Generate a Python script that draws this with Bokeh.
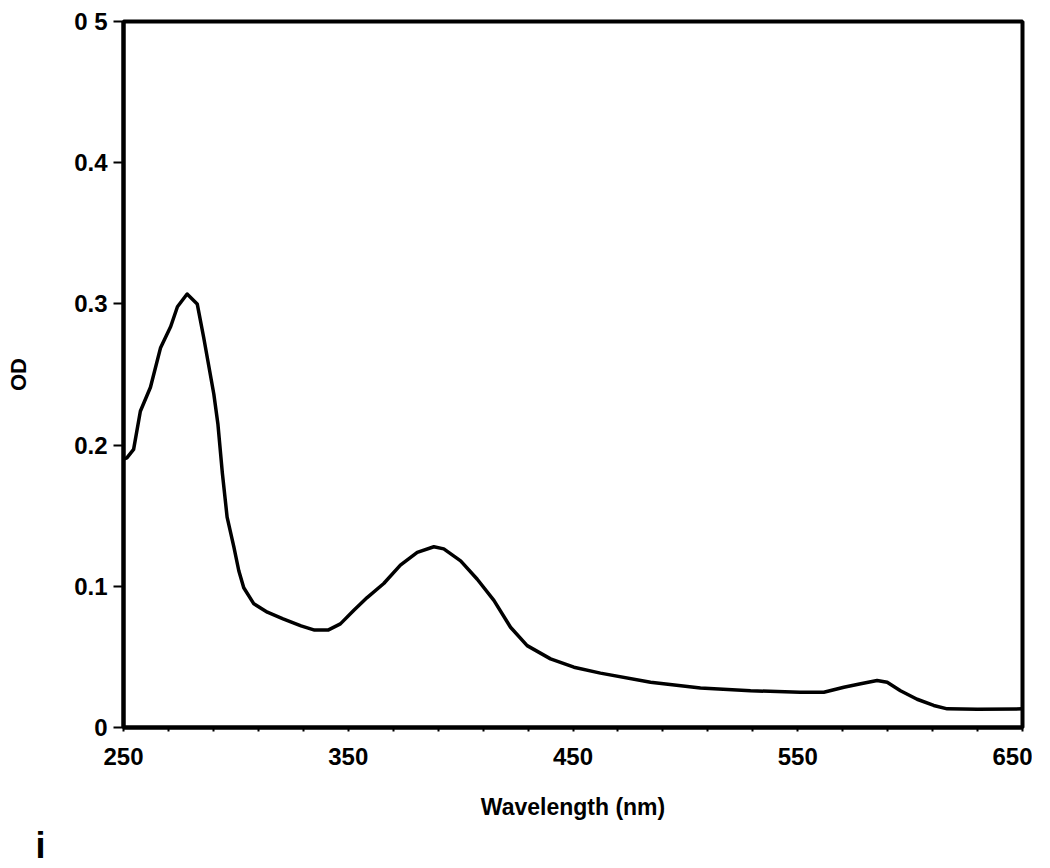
from bokeh.plotting import figure
from bokeh.models import FixedTicker, Range1d, Title
from bokeh.embed import file_html
from bokeh.resources import INLINE

wavelength = [250, 251.5, 254.5, 257.5, 262, 266.5, 271, 274, 278.3, 282.8, 285.7,
              290.2, 292, 294, 296.1, 299.1, 301.3, 303.5, 308, 314, 321, 329, 335,
              341, 346.5, 352.5, 358.4, 365.8, 373.2, 380.7, 388.1, 392.5, 400,
              407.4, 414.8, 422.2, 429.6, 440, 450.4, 462.2, 484.5, 506.7, 529,
              551, 561.6, 570.5, 578, 585.3, 589.8, 595.7, 603.1, 610.5, 616.5,
              630, 650]
od = [0.190, 0.191, 0.197, 0.224, 0.241, 0.269, 0.284, 0.298, 0.307, 0.300, 0.276,
      0.236, 0.215, 0.180, 0.149, 0.128, 0.111, 0.099, 0.0876, 0.0817, 0.077, 0.072, 0.069,
      0.069, 0.0734, 0.083, 0.092, 0.102, 0.115, 0.124, 0.128, 0.1265, 0.118,
      0.105, 0.090, 0.071, 0.058, 0.0486, 0.0427, 0.0385, 0.032, 0.028, 0.026,
      0.025, 0.025, 0.0285, 0.031, 0.0333, 0.032, 0.026, 0.020, 0.0156, 0.0132,
      0.013, 0.0132]

x_ticks = [250, 350, 450, 550, 650]
x_minor = [270, 290, 310, 330, 370, 390, 410, 430, 470, 490, 510, 530, 570, 590, 610, 630]
y_ticks = [0, 0.1, 0.2, 0.3, 0.4, 0.5]
y_labels = {0: "0", 0.1: "0.1", 0.2: "0.2", 0.3: "0.3", 0.4: "0.4", 0.5: "0 5"}
panel_mark = "i"

FONT = "Liberation Sans"

p = figure(width=1040, height=860, frame_width=899, frame_height=706,
           output_backend="svg", toolbar_location=None,
           x_range=Range1d(250, 650), y_range=Range1d(0, 0.5),
           min_border_left=123, min_border_top=21, min_border_right=10,
           min_border_bottom=5)

p.line(wavelength, od, line_color="black", line_width=3.5, line_join="round")

p.grid.visible = False
p.outline_line_color = "black"
p.outline_line_width = 4
p.background_fill_color = "white"
p.border_fill_color = "white"

xa = p.xaxis[0]
xa.ticker = FixedTicker(ticks=x_ticks, minor_ticks=x_minor)
xa.axis_line_width = 4
xa.major_tick_line_width = 2
xa.minor_tick_line_width = 2
xa.major_tick_out = 4
xa.major_tick_in = 0
xa.minor_tick_out = 4
xa.minor_tick_in = 0
xa.major_label_text_font = FONT
xa.major_label_text_font_style = "bold"
xa.major_label_text_font_size = "24px"
xa.major_label_text_color = "black"
xa.major_label_standoff = 16
xa.axis_label = "Wavelength (nm)"
xa.axis_label_text_font = FONT
xa.axis_label_text_font_style = "bold"
xa.axis_label_text_font_size = "23px"
xa.axis_label_text_color = "black"
xa.axis_label_standoff = 26

ya = p.yaxis[0]
ya.ticker = FixedTicker(ticks=y_ticks, minor_ticks=[])
ya.major_label_overrides = y_labels
ya.axis_line_width = 4
ya.major_tick_line_width = 2
ya.major_tick_out = 10
ya.major_tick_in = 0
ya.minor_tick_out = 0
ya.minor_tick_in = 0
ya.major_label_text_font = FONT
ya.major_label_text_font_style = "bold"
ya.major_label_text_font_size = "24px"
ya.major_label_text_color = "black"
ya.major_label_standoff = 6
ya.axis_label = "OD"
ya.axis_label_text_font = FONT
ya.axis_label_text_font_style = "bold"
ya.axis_label_text_font_size = "22px"
ya.axis_label_text_color = "black"
ya.axis_label_standoff = 40

p.add_layout(Title(text=panel_mark, align="left", offset=-88, standoff=0,
                   text_font=FONT, text_font_size="36px",
                   text_font_style="bold", text_color="black"), "below")

open("out.html", "w").write(file_html(p, INLINE))
